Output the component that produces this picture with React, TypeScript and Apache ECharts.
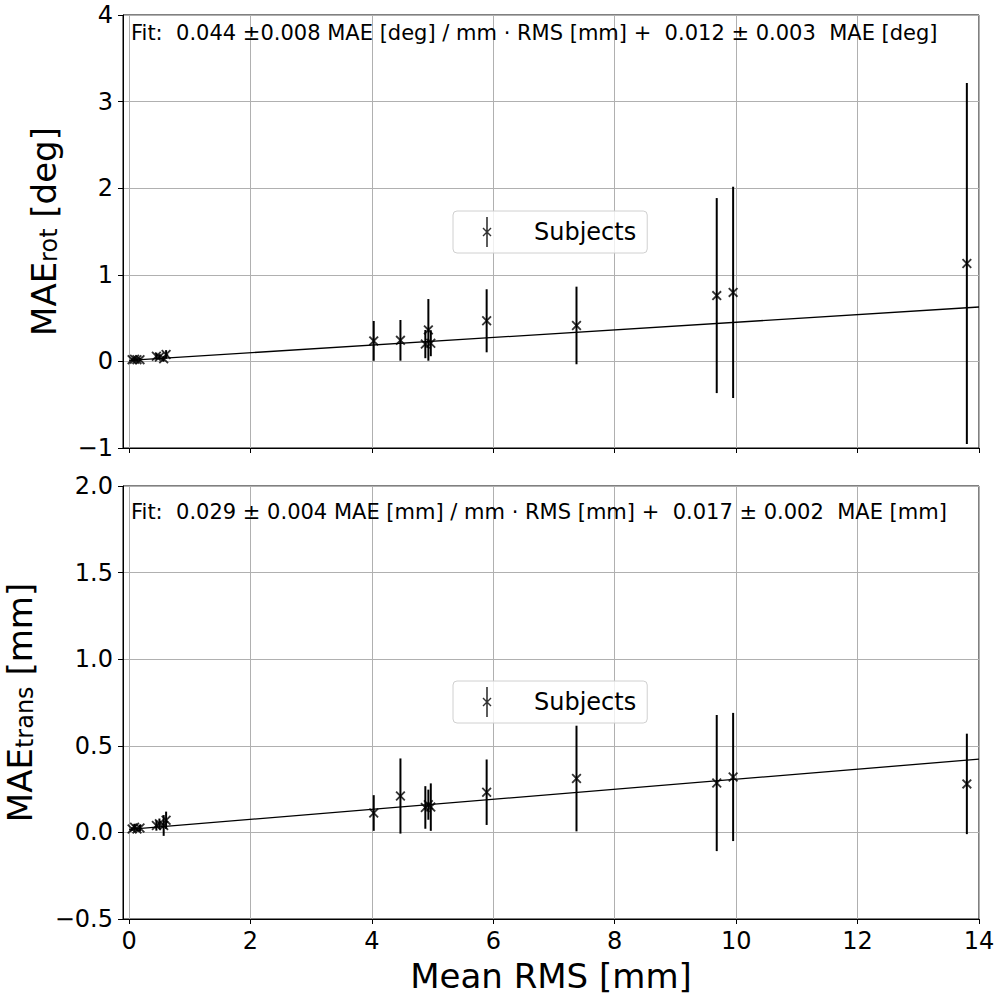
import React, { useEffect, useRef } from 'react';
import * as echarts from 'echarts';

// Mean RMS per subject [mm]
const meanRms = [0.05, 0.09, 0.13, 0.18, 0.45, 0.5, 0.57, 0.61, 4.03, 4.47, 4.88, 4.93, 4.97, 5.89, 7.37, 9.68, 9.95, 13.8];
// Rotational MAE [deg] and its error
const maeRot = [0.02, 0.025, 0.02, 0.02, 0.06, 0.05, 0.03, 0.08, 0.237, 0.243, 0.2, 0.364, 0.21, 0.469, 0.415, 0.76, 0.797, 1.13];
const maeRotErr = [0.015, 0.02, 0.015, 0.02, 0.04, 0.03, 0.03, 0.05, 0.23, 0.235, 0.163, 0.356, 0.15, 0.364, 0.448, 1.126, 1.22, 2.085];
// Translational MAE [mm] and its error
const maeTrans = [0.02, 0.03, 0.02, 0.025, 0.04, 0.05, 0.04, 0.07, 0.112, 0.21, 0.144, 0.16, 0.146, 0.232, 0.311, 0.285, 0.32, 0.28];
const maeTransErr = [0.01, 0.02, 0.01, 0.02, 0.03, 0.03, 0.06, 0.05, 0.103, 0.217, 0.123, 0.087, 0.137, 0.189, 0.305, 0.393, 0.37, 0.29];

// Linear fits: [slope, intercept]
const fitRot = [0.044, 0.012];
const fitTrans = [0.029, 0.017];
const fitRange = [0, 14];

const xTicks = [0, 2, 4, 6, 8, 10, 12, 14];
const xRange = [-0.1, 14];
const rotRange = [-1, 4, 1];
const transRange = [-0.5, 2, 0.5];

const fitTextRot = 'Fit:  0.044 ±0.008 MAE [deg] / mm · RMS [mm] +  0.012 ± 0.003  MAE [deg]';
const fitTextTrans = 'Fit:  0.029 ± 0.004 MAE [mm] / mm · RMS [mm] +  0.017 ± 0.002  MAE [mm]';
const seriesName = 'Subjects';

const FONT = 'DejaVu Sans';
const X_SYMBOL = 'path://M0,1.3 L1.3,0 L5,3.7 L8.7,0 L10,1.3 L6.3,5 L10,8.7 L8.7,10 L5,6.3 L1.3,10 L0,8.7 L3.7,5 Z';
const LEGEND_ICON =
  'path://M19.2,0 L20.8,0 L20.8,30 L19.2,30 Z ' +
  'M15.5,11.5 L16.5,10.5 L20,14 L23.5,10.5 L24.5,11.5 L21,15 L24.5,18.5 L23.5,19.5 L20,16 L16.5,19.5 L15.5,18.5 L19,15 Z ' +
  'M0,15 L0.01,15 L0.01,15.01 Z M40,15 L39.99,15 L39.99,15.01 Z';

const minus = (s: string) => s.replace('-', '\u2212');

export default function App() {
  const ref = useRef<HTMLDivElement>(null);
  useEffect(() => {
    if (!ref.current) return;
    const chart = echarts.init(ref.current, undefined, { renderer: 'svg' });

    const pts = (ys: number[]) => meanRms.map((x, i) => [x, ys[i]]);
    const errs = (ys: number[], es: number[]) => meanRms.map((x, i) => [x, ys[i], es[i]]);
    const fitLine = (f: number[]) => fitRange.map((x) => [x, f[0] * x + f[1]]);

    const errRender = (params: any, api: any) => {
      const x = api.value(0);
      const y = api.value(1);
      const e = api.value(2);
      const p1 = api.coord([x, y - e]);
      const p2 = api.coord([x, y + e]);
      return {
        type: 'line',
        shape: { x1: p1[0], y1: p1[1], x2: p2[0], y2: p2[1] },
        style: { stroke: '#000', lineWidth: 2 },
      };
    };

    const xAxisBase = (gridIndex: number, showLabels: boolean) => ({
      type: 'value',
      gridIndex,
      min: xRange[0],
      max: xRange[1],
      axisLine: { show: true, onZero: false, lineStyle: { color: '#000', width: 1 } },
      axisTick: { show: true, inside: false, length: 5, customValues: xTicks, lineStyle: { color: '#000' } },
      axisLabel: {
        show: showLabels,
        customValues: xTicks,
        margin: 10,
        fontSize: 24,
        fontFamily: FONT,
        color: '#000',
      },
      splitLine: { show: true, lineStyle: { color: '#b0b0b0', width: 1 } },
      ...(showLabels
        ? {
            name: 'Mean RMS [mm]',
            nameLocation: 'middle',
            nameGap: 40,
            nameMoveOverlap: false,
            nameTextStyle: { fontSize: 34, lineHeight: 34, fontFamily: FONT, color: '#000' },
          }
        : {}),
    });

    const yAxisBase = (gridIndex: number, range: number[], name: string, decimals: number, gap: number) => ({
      type: 'value',
      gridIndex,
      min: range[0],
      max: range[1],
      interval: range[2],
      axisLine: { show: true, onZero: false, lineStyle: { color: '#000', width: 1 } },
      axisTick: { show: true, inside: false, length: 5, lineStyle: { color: '#000' } },
      axisLabel: {
        margin: 10,
        fontSize: 24,
        fontFamily: FONT,
        color: '#000',
        formatter: (v: number) => minus(v.toFixed(decimals)),
      },
      splitLine: { show: true, lineStyle: { color: '#b0b0b0', width: 1 } },
      name,
      nameLocation: 'middle',
      nameRotate: 90,
      nameGap: gap,
      nameMoveOverlap: false,
      nameTextStyle: {
        fontFamily: FONT,
        color: '#000',
        rich: {
          m: { fontSize: 34, fontFamily: FONT, color: '#000', lineHeight: 34, verticalAlign: 'bottom' },
          s: { fontSize: 24, fontFamily: FONT, color: '#000', lineHeight: 20, verticalAlign: 'bottom' },
        },
      },
    });

    const legendBase = (top: number) => ({
      show: true,
      left: 453,
      top,
      orient: 'horizontal',
      selectedMode: false,
      data: [{ name: seriesName, icon: LEGEND_ICON }],
      itemWidth: 40,
      itemHeight: 30,
      padding: [6, 11, 6, 14],
      borderColor: '#d0d0d0',
      borderWidth: 1,
      borderRadius: 4,
      backgroundColor: 'rgba(255,255,255,0.8)',
      textStyle: { fontSize: 24, fontFamily: FONT, color: '#000', padding: [0, 0, 0, 22] },
    });

    const gridBase = (top: number) => ({
      left: 123,
      right: 21,
      top,
      height: 433,
      show: true,
      borderColor: '#000',
      borderWidth: 1,
      backgroundColor: 'transparent',
      containLabel: false,
      outerBoundsMode: 'none',
    });

    const option: any = {
      animation: false,
      backgroundColor: '#fff',
      grid: [gridBase(15), gridBase(486)],
      xAxis: [xAxisBase(0, false), xAxisBase(1, true)],
      yAxis: [
        yAxisBase(0, rotRange, '{m|MAE}{s|rot}{m| [deg]}', 0, 62),
        yAxisBase(1, transRange, '{m|MAE}{s|trans}{m| [mm]}', 1, 86),
      ],
      legend: [legendBase(211), legendBase(681)],
      graphic: [
        {
          type: 'text',
          left: 131,
          top: 22,
          style: { text: fitTextRot, fontSize: 21, fontFamily: FONT, fill: '#000' },
          z: 10,
        },
        {
          type: 'text',
          left: 131,
          top: 501,
          style: { text: fitTextTrans, fontSize: 21, fontFamily: FONT, fill: '#000' },
          z: 10,
        },
      ],
      series: [
        {
          type: 'line',
          xAxisIndex: 0,
          yAxisIndex: 0,
          data: fitLine(fitRot),
          symbol: 'none',
          lineStyle: { color: '#000', width: 1.3 },
          silent: true,
        },
        {
          type: 'custom',
          xAxisIndex: 0,
          yAxisIndex: 0,
          data: errs(maeRot, maeRotErr),
          encode: { x: 0, y: 1 },
          renderItem: errRender,
          silent: true,
        },
        {
          type: 'scatter',
          name: seriesName,
          xAxisIndex: 0,
          yAxisIndex: 0,
          data: pts(maeRot),
          symbol: X_SYMBOL,
          symbolSize: 10,
          itemStyle: { color: '#000' },
          z: 5,
        },
        {
          type: 'line',
          xAxisIndex: 1,
          yAxisIndex: 1,
          data: fitLine(fitTrans),
          symbol: 'none',
          lineStyle: { color: '#000', width: 1.3 },
          silent: true,
        },
        {
          type: 'custom',
          xAxisIndex: 1,
          yAxisIndex: 1,
          data: errs(maeTrans, maeTransErr),
          encode: { x: 0, y: 1 },
          renderItem: errRender,
          silent: true,
        },
        {
          type: 'scatter',
          name: seriesName,
          xAxisIndex: 1,
          yAxisIndex: 1,
          data: pts(maeTrans),
          symbol: X_SYMBOL,
          symbolSize: 10,
          itemStyle: { color: '#000' },
          z: 5,
        },
      ],
    };

    chart.setOption(option);
    return () => chart.dispose();
  }, []);

  return (
    <div
      ref={ref}
      style={{ position: 'absolute', left: 0, top: 0, width: 1000, height: 1000, background: '#fff' }}
    />
  );
}
